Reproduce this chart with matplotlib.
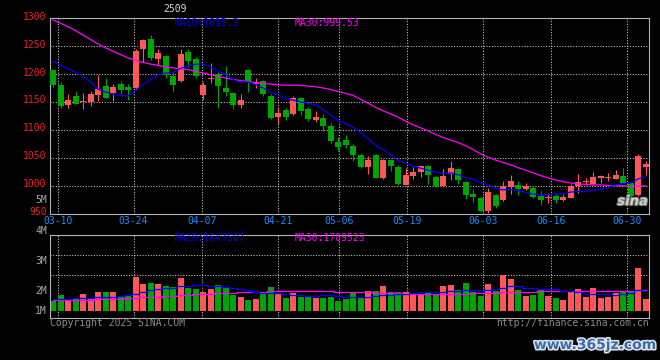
import numpy as np
import matplotlib
matplotlib.use('Agg')
import matplotlib.pyplot as plt
import matplotlib.transforms as mtransforms
import matplotlib.patheffects as pe

# ---------------- data ----------------
opens = [1207.1, 1180.4, 1144.7, 1160.8, 1150.0, 1149.5, 1162.6, 1178.6, 1166.1, 1182.2,
         1177.4, 1174.5, 1244.7, 1262.5, 1227.4, 1232.8, 1196.5, 1187.5, 1239.9, 1226.8,
         1162.6, 1190.5, 1199.4, 1175.6, 1165.5, 1144.7, 1207.2, 1182.7, 1188.1, 1160.7,
         1123.8, 1135.7, 1128.6, 1157.2, 1137.5, 1117.3, 1121.4, 1107.7, 1079.2, 1082.2,
         1071.4, 1055.4, 1033.9, 1055.4, 1014.3, 1045.3, 1033.9, 1001.8, 1017.9, 1023.8,
         1035.8, 1016.1, 998.8, 1021.4, 1030.4, 1007.2, 985.7, 978.6, 955.4, 984.0,
         975.0, 997.6, 1001.8, 994.7, 996.4, 982.2, 978.0, 981.0, 974.4, 978.6,
         998.8, 1006.7, 1003.6, 1014.3, 1014.6, 1012.0, 1017.9, 1005.4, 984.0, 1032.8]
highs = [1209.0, 1185.2, 1163.7, 1169.7, 1166.0, 1169.7, 1198.3, 1192.3, 1181.6, 1187.5,
         1182.0, 1245.9, 1263.7, 1269.7, 1244.7, 1235.0, 1204.0, 1244.7, 1245.9, 1231.0,
         1186.3, 1219.1, 1204.0, 1214.9, 1168.0, 1163.7, 1210.0, 1192.3, 1189.3, 1163.7,
         1141.7, 1138.7, 1161.3, 1158.3, 1140.5, 1134.5, 1128.0, 1113.1, 1088.1, 1091.1,
         1075.0, 1059.5, 1053.6, 1056.6, 1048.2, 1047.6, 1037.5, 1031.6, 1033.9, 1037.5,
         1037.5, 1018.0, 1030.4, 1044.7, 1031.6, 1007.8, 994.7, 979.2, 996.4, 985.7,
         1008.9, 1018.5, 1007.8, 1004.2, 998.8, 991.1, 986.9, 985.1, 984.5, 1003.0,
         1021.4, 1013.7, 1025.1, 1019.1, 1022.6, 1028.0, 1031.6, 1007.2, 1057.3, 1044.7]
lows = [1177.5, 1140.0, 1140.0, 1146.0, 1138.0, 1143.5, 1151.9, 1156.7, 1151.9, 1163.7,
        1153.6, 1172.0, 1222.0, 1225.0, 1216.0, 1193.5, 1169.7, 1186.0, 1213.0, 1192.3,
        1153.6, 1183.4, 1140.0, 1160.0, 1137.0, 1139.3, 1168.5, 1175.6, 1161.3, 1119.7,
        1110.2, 1117.9, 1126.8, 1126.8, 1116.1, 1113.7, 1098.2, 1076.2, 1063.1, 1068.5,
        1044.7, 1031.6, 1021.4, 1013.7, 1012.5, 1026.0, 1001.8, 1000.6, 1012.5, 1014.9,
        1003.0, 997.0, 997.6, 1010.7, 1003.6, 976.8, 970.3, 953.0, 951.2, 960.1,
        973.2, 985.7, 983.9, 991.7, 978.0, 966.4, 969.0, 969.0, 972.0, 978.0,
        987.6, 1001.2, 1001.8, 1005.4, 1009.0, 1011.5, 1004.8, 972.4, 981.0, 1019.7]
closes = [1180.4, 1143.5, 1153.6, 1146.5, 1150.7, 1164.3, 1173.3, 1157.8, 1176.8, 1171.5,
          1171.5, 1241.7, 1260.7, 1229.2, 1237.5, 1198.3, 1180.4, 1235.6, 1223.2, 1197.4,
          1180.4, 1192.3, 1179.4, 1168.5, 1144.7, 1153.6, 1186.4, 1186.3, 1164.3, 1122.0,
          1130.4, 1123.2, 1156.6, 1133.9, 1119.7, 1123.8, 1107.2, 1080.4, 1069.7, 1073.2,
          1055.4, 1033.3, 1047.0, 1014.3, 1046.4, 1035.8, 1003.6, 1019.7, 1023.8, 1035.8,
          1019.7, 998.8, 1017.9, 1031.6, 1009.5, 984.0, 979.8, 954.2, 989.3, 963.1,
          998.8, 1007.8, 994.7, 999.4, 979.8, 975.0, 979.2, 973.8, 980.4, 999.4,
          1007.2, 1007.4, 1016.1, 1017.3, 1015.0, 1019.1, 1005.4, 981.0, 1053.6, 1039.9]
volumes = [809, 1276, 893, 1026, 1393, 1001, 1560, 1560, 1560, 1226,
           1251, 2811, 2227, 2311, 2227, 2060, 2002, 2728, 1919, 1810,
           1585, 1810, 2144, 1860, 1310, 1109, 893, 976, 1443, 1977,
           1393, 1059, 1443, 1168, 1168, 1084, 1059, 1168, 809, 976,
           1443, 1084, 1643, 1643, 2060, 1527, 1585, 1560, 1393, 1310,
           1560, 1310, 2060, 2144, 1727, 2311, 1585, 1251, 2227, 1643,
           2978, 2644, 1727, 1226, 1310, 1727, 1226, 1059, 893, 1643,
           1810, 1168, 1894, 1084, 1168, 1502, 1643, 1643, 3587, 976]  # thousand lots

# moving-average values before enough in-window data exist
ma10_head = [1223, 1216, 1210, 1203, 1196, 1186, 1173, 1168, 1164]
ma30_head = [1297, 1291, 1285, 1278, 1270, 1262, 1254, 1247, 1241, 1235,
             1229, 1225, 1221, 1218, 1215.5, 1213, 1211, 1209.5, 1208, 1205,
             1202, 1199, 1196, 1193, 1190.5, 1188.5, 1186.5, 1184.5, 1183]
vol_ma10_head = [1001, 1001, 1001, 1026, 1059, 1084, 1109, 1143, 1168]
vol_ma30_head = [859, 867, 884, 892, 909, 917, 942, 959, 984, 1001,
                 1026, 1068, 1109, 1143, 1184, 1226, 1259, 1293, 1326, 1359,
                 1393, 1418, 1443, 1476, 1501, 1526, 1535, 1551, 1560]

date_labels = ['03-10', '03-24', '04-07', '04-21', '05-06', '05-19', '06-03', '06-16', '06-30']
date_label_idx = [1, 11, 20, 30, 38, 47, 57, 66, 76]
price_ticks = [1300, 1250, 1200, 1150, 1100, 1050, 1000, 950]
vol_tick_labels = ['5M', '4M', '3M', '2M', '1M']
title_text = '2509'
price_ma_text = ['MA10:1015.2', 'MA30:999.53']
vol_ma_text = ['MA10:1647507', 'MA30:1709523']

# ---------------- style ----------------
RED = '#ff5656'
GREEN = '#00a600'
BLUE = '#0000ff'
MAGENTA = '#ff00ff'
GRID = '#c8c8c8'
BORDER = '#b4b4b4'
FONT = 'DejaVu Sans Mono'
FS = 7

W, H = 660, 360
fig = plt.figure(figsize=(W / 100, H / 100), dpi=100, facecolor='black')


def fx(px):
    return px / W


def fy(py):
    return 1 - py / H


L, R = 50, 649.3
PT, PB = 18.3, 213.7
VT, VB, VBASE = 234.7, 318.3, 310.7

ax = fig.add_axes([fx(L), fy(PB), (R - L) / W, (PB - PT) / H])
axv = fig.add_axes([fx(L), fy(VB), (R - L) / W, (VB - VT) / H])

n = len(closes)
x = np.arange(n)
o = np.array(opens)
h = np.array(highs)
lo = np.array(lows)
c = np.array(closes)
v = np.array(volumes) * 1000.0
up = c >= o
cols = np.where(up, RED, GREEN)


def rolling(vals, k, head):
    out = list(head)
    for i in range(len(head), len(vals)):
        out.append(float(np.mean(vals[i - k + 1:i + 1])))
    return np.array(out)


ma10 = rolling(c, 10, ma10_head)
ma30 = rolling(c, 30, ma30_head)
vma10 = rolling(v, 10, np.array(vol_ma10_head) * 1000.0)
vma30 = rolling(v, 30, np.array(vol_ma30_head) * 1000.0)

xmin, xmax = -0.4, n - 0.5
label_pos = [k * n / (n - 1) - 0.4 for k in date_label_idx]

for a in (ax, axv):
    a.set_facecolor('black')
    a.set_xlim(xmin, xmax)
    a.set_xticks([])
    a.set_yticks([])
    for s in a.spines.values():
        s.set_color(BORDER)
        s.set_linewidth(0.8)
    for p in label_pos:
        a.axvline(p, color=GRID, lw=0.75, ls=(0, (1, 1.6)), zorder=0.5)

# ---------------- price panel ----------------
ax.set_ylim(950, 1300)
for t in price_ticks[1:-1]:
    ax.axhline(t, color=GRID, lw=0.75, ls=(0, (1, 1.6)), zorder=0.5)

ax.vlines(x, lo, h, colors=cols, lw=0.8, zorder=2)
body_bot = np.minimum(o, c)
body_h = np.maximum(np.abs(c - o), 1.1)
ax.bar(x, body_h, bottom=body_bot, width=0.8, color=cols, edgecolor='none', lw=0, zorder=3)
ax.plot(x, ma30, color=MAGENTA, lw=0.9, zorder=4)
ax.plot(x, ma10, color=BLUE, lw=0.9, zorder=4)

ytr = mtransforms.offset_copy(mtransforms.blended_transform_factory(ax.transAxes, ax.transData),
                              fig=fig, x=0, y=1.6, units='dots')
for t in price_ticks:
    ax.text(-3.5 / (R - L), t, str(t), transform=ytr, ha='right', va='center',
            color='#ee2222', fontsize=FS, family=FONT, clip_on=False)

xtr = mtransforms.blended_transform_factory(ax.transData, ax.transAxes)
for p, lab in zip(label_pos, date_labels):
    ax.text(p, -(221.5 - PB) / (PB - PT), lab, transform=xtr, ha='center', va='center',
            color='#1a8cff', fontsize=FS, family=FONT, clip_on=False)

fig.text(fx(175), fy(23.3), price_ma_text[0], color='#0000ee', fontsize=FS, family=FONT,
         ha='left', va='center')
fig.text(fx(295), fy(23.3), price_ma_text[1], color=MAGENTA, fontsize=FS, family=FONT,
         ha='left', va='center')
fig.text(fx(163), fy(9.5), title_text, color='#d6d6d6', fontsize=FS, family=FONT,
         ha='left', va='center')

# sina logo
fig.text(fx(648), fy(201.5), 'sina', color='#cfcfcf', fontsize=9.5, fontweight='bold',
         style='italic', ha='right', va='center',
         path_effects=[pe.withStroke(linewidth=1.5, foreground='#707070')], zorder=5)

# ---------------- volume panel ----------------
S = 83418.0  # lots per pixel
axv.set_ylim(-(VB - VBASE) * S, (VBASE - VT) * S)
for ypx in (255, 275):
    f = (VB - ypx) / (VB - VT)
    axv.plot([0, 1], [f, f], transform=axv.transAxes, color=GRID, lw=0.75,
             ls=(0, (1, 1.6)), zorder=0.5)
axv.bar(x, v, width=0.8, color=cols, edgecolor='none', lw=0, zorder=2)
axv.plot(x, vma30, color=MAGENTA, lw=0.9, drawstyle='steps-mid', zorder=3)
axv.plot(x, vma10, color=BLUE, lw=0.9, drawstyle='steps-mid', zorder=3)

for lab, ypx in zip(vol_tick_labels, [200.0, 230.7, 260.7, 290.7, 310.7]):
    fig.text(fx(46.8), fy(ypx), lab, color='#a8a8a8', fontsize=FS, family=FONT,
             ha='right', va='center')

fig.text(fx(175), fy(238.3), vol_ma_text[0], color='#0000ee', fontsize=FS, family=FONT,
         ha='left', va='center')
fig.text(fx(295), fy(238.3), vol_ma_text[1], color=MAGENTA, fontsize=FS, family=FONT,
         ha='left', va='center')

fig.text(fx(50), fy(323.5), 'Copyright 2025 SINA.COM', color='#8c8c8c', fontsize=FS,
         family=FONT, ha='left', va='center')
fig.text(fx(649), fy(323.5), 'http://finance.sina.com.cn', color='#8c8c8c', fontsize=FS,
         family=FONT, ha='right', va='center')

fig.text(fx(595), fy(345), 'www.365jz.com', color='#3b6da6', fontsize=10, fontweight='bold',
         ha='center', va='center',
         path_effects=[pe.withStroke(linewidth=2.2, foreground='#dfe6ee')])

fig.savefig('out.png', dpi=100, facecolor='black')
